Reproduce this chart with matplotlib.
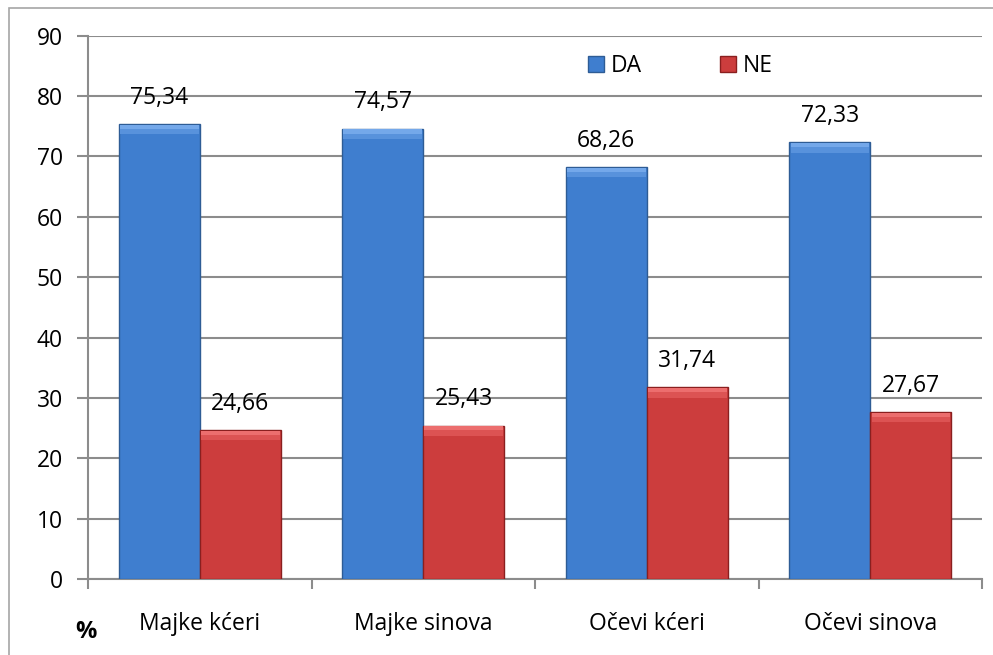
import matplotlib.pyplot as plt
import numpy as np
from matplotlib.patches import Rectangle

plt.rcParams['font.family'] = ['Open Sans', 'DejaVu Sans']

categories = ['Majke kćeri', 'Majke sinova', 'Očevi kćeri', 'Očevi sinova']
da = [75.34, 74.57, 68.26, 72.33]
ne = [24.66, 25.43, 31.74, 27.67]

blue = '#3F7ECF'
blue_edge = '#2E5C95'
red = '#CC3D3D'
red_edge = '#8A1F1F'
grid_col = '#8C8C8C'
fs = 16.5

fig = plt.figure(figsize=(9.93, 6.55), dpi=100)
ax = fig.add_axes([0.0886, 0.116, 0.9004, 0.8295])

# outer chart frame
fig.patches.append(Rectangle((9 / 993, -0.1), 1.2, 1 - 8 / 655 + 0.1,
                             transform=fig.transFigure, fill=False,
                             edgecolor='#A6A6A6', linewidth=1.2))

x = np.arange(len(categories))
w = 0.3625

b1 = ax.bar(x - w / 2, da, w, color=blue, edgecolor=blue_edge, linewidth=1.0,
            label='DA', zorder=3)
b2 = ax.bar(x + w / 2, ne, w, color=red, edgecolor=red_edge, linewidth=1.0,
            label='NE', zorder=3)

# soft highlight at the top of each bar
ax.bar(x - w / 2, 0.7, w * 0.97, bottom=np.array(da) - 0.8, color='#74A8EA',
       linewidth=0, zorder=4)
ax.bar(x - w / 2, 0.9, w * 0.97, bottom=np.array(da) - 1.7, color='#5892DC',
       linewidth=0, zorder=4)
ax.bar(x + w / 2, 0.7, w * 0.97, bottom=np.array(ne) - 0.8, color='#EC6E6E',
       linewidth=0, zorder=4)
ax.bar(x + w / 2, 0.9, w * 0.97, bottom=np.array(ne) - 1.7, color='#DC5353',
       linewidth=0, zorder=4)

for bars, vals in ((b1, da), (b2, ne)):
    for rect, v in zip(bars, vals):
        ax.annotate(f'{v:.2f}'.replace('.', ','),
                    (rect.get_x() + rect.get_width() / 2, v),
                    xytext=(0, 19), textcoords='offset points',
                    ha='center', va='center', fontsize=fs, color='black')

ax.set_xlim(-0.5, len(categories) - 0.5)
ax.set_ylim(0, 90)
ax.set_yticks(np.arange(0, 91, 10))
ax.set_xticks(np.arange(-0.5, len(categories), 1))
ax.set_xticklabels([])
ax.set_xticks(x, minor=True)
ax.set_xticklabels(categories, minor=True)
ax.tick_params(axis='x', which='minor', length=0, pad=24, labelsize=fs)
ax.tick_params(axis='x', which='major', length=7, width=1.5, color=grid_col)
ax.tick_params(axis='y', length=8, width=1.5, color=grid_col, labelsize=fs,
               pad=10)

ax.grid(axis='y', color=grid_col, linewidth=1.5, zorder=0)
ax.set_axisbelow(True)
for s in ('top', 'right'):
    ax.spines[s].set_visible(False)
for s in ('left', 'bottom'):
    ax.spines[s].set_color(grid_col)
    ax.spines[s].set_linewidth(1.5)

ax.legend(handles=[b1, b2], loc='upper left', bbox_to_anchor=(0.536, 1.005),
          ncol=2, frameon=False, fontsize=fs, handlelength=0.7,
          handleheight=0.7, handletextpad=0.3, columnspacing=3.4)

fig.text(86 / 993, 1 - 632 / 655, '%', fontsize=17, fontweight='bold',
         ha='center', va='center')

fig.savefig('out.png', dpi=100)
